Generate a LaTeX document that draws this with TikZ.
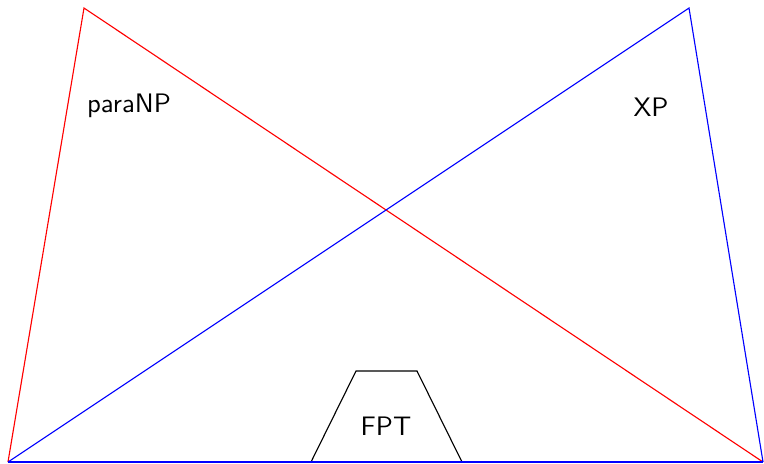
\documentclass[tikz,border=0pt]{standalone}
\begin{document}
\begin{tikzpicture}[x=0.4pt,y=-0.4pt,
  lbl/.style={font=\sffamily\fontsize{10.7}{13}\selectfont, inner sep=0pt},
  redline/.style={draw=red, line width=0.45pt},
  blueline/.style={draw=blue, line width=0.45pt},
  blackline/.style={draw=black, line width=0.45pt}]
\useasboundingbox (0,0) rectangle (764,463);
\coordinate (BL) at (8,462);
\coordinate (BR) at (763,462);
\coordinate (RT) at (84,8);
\coordinate (BT) at (689,8);
\coordinate (T1) at (311,462);
\coordinate (T2) at (356,371);
\coordinate (T3) at (417,371);
\coordinate (T4) at (462,462);
\draw[redline] (BL) -- (RT) -- (BR);
\draw[blueline] (BR) -- (BT) -- (BL);
\draw[blackline] (T1) -- (T2) -- (T3) -- (T4);
\draw[blueline] (BL) -- (BR);
\node[lbl] (paranp) at (129,106) {paraNP};
\node[lbl] (xp) at (651,107) {XP};
\node[lbl] (fpt) at (386,426) {FPT};
\end{tikzpicture}
\end{document}
